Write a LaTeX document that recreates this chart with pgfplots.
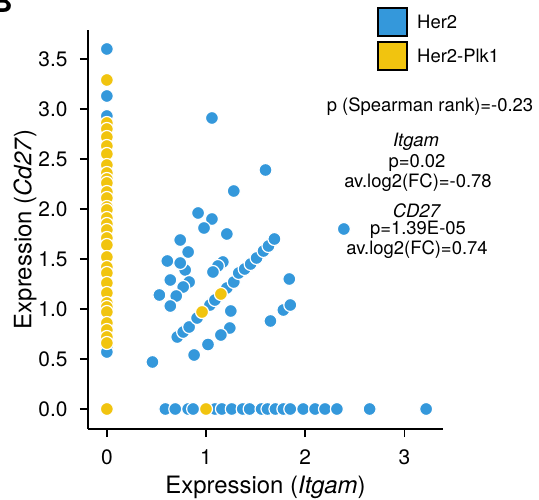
\documentclass[border=0pt]{standalone}
\usepackage{pgfplots}
\pgfplotsset{compat=1.18}
\usepackage{fontspec}
\setmainfont{TeX Gyre Heros}
\definecolor{her2}{HTML}{3498DB}
\definecolor{plk}{HTML}{F1C40F}

% Her2 cells: Itgam vs Cd27 expression
\pgfplotstableread{
x y
0 3.60
0 3.13
0 2.93
0 0.62
0 0.57
1.06 2.91
1.60 2.39
1.28 2.18
0.92 1.96
1.06 1.90
0.98 1.81
1.21 1.75
0.74 1.69
0.82 1.57
0.61 1.48
0.79 1.39
0.74 1.46
0.64 1.29
0.83 1.27
0.77 1.22
0.53 1.14
0.70 1.13
0.64 1.03
1.17 1.47
1.12 1.43
1.07 1.37
2.39 1.80
1.84 1.30
1.78 0.99
1.85 1.04
1.65 0.88
1.25 0.98
1.24 0.81
1.15 0.74
1.02 0.645
0.88 0.54
0.46 0.47
0.71 0.72
0.77 0.77
0.83 0.82
0.91 0.91
1.04 1.04
1.09 1.09
1.21 1.21
1.28 1.27
1.33 1.36
1.39 1.40
1.45 1.45
1.51 1.51
1.58 1.58
1.63 1.63
1.69 1.70
0.59 0
0.69 0
0.82 0
0.87 0
1.09 0
1.16 0
1.26 0
1.37 0
1.44 0
1.56 0
1.62 0
1.70 0
1.78 0
1.85 0
1.98 0
2.10 0
2.20 0
2.32 0
2.65 0
3.22 0
}\hertwo

% Her2-Plk1 cells
\pgfplotstableread{
x y
0 3.29
0 2.86
0 2.80
0 2.72
0 2.63
0 2.55
0 2.44
0 2.36
0 2.30
0 2.26
0 2.17
0 2.11
0 2.02
0 1.99
0 1.91
0 1.85
0 1.79
0 1.71
0 1.64
0 1.52
0 1.42
0 1.36
0 1.26
0 1.16
0 1.06
0 1.02
0 0.97
0 0.86
0 0.79
0 0.72
0 0.66
0 0
0.96 0.97
1.15 1.15
1.00 0
}\plkone

\begin{document}
\begin{tikzpicture}
\path[use as bounding box] (-88bp,-71bp) rectangle (451bp,429bp);
\begin{axis}[
  at={(0,0)}, anchor=south west,
  scale only axis, width=355bp, height=399bp,
  xmin=-0.19, xmax=3.39, ymin=-0.2, ymax=3.79,
  axis lines=left, axis line style={-, line width=1.6bp},
  tick align=outside, major tick length=8bp,
  tick style={line width=1.6bp, black},
  xtick={0,1,2,3}, ytick={0,0.5,1,1.5,2,2.5,3,3.5},
  xticklabel style={font=\fontsize{21}{21}\selectfont, yshift=-9bp,
    /pgf/number format/assume math mode=true},
  yticklabel style={font=\fontsize{21}{21}\selectfont, xshift=-9bp,
    /pgf/number format/.cd, fixed, fixed zerofill, precision=1, assume math mode=true},
  xlabel={Expression (\textit{Itgam})},
  ylabel={Expression (\textit{Cd27})},
  label style={font=\fontsize{24}{24}\selectfont},
  xlabel style={at={(axis description cs:0.5,0)}, anchor=center, yshift=-58bp},
  ylabel style={at={(axis description cs:0,0.5)}, anchor=center, yshift=63bp},
  clip=false,
]
\addplot[only marks, mark=*, mark size=6.5bp,
  mark options={fill=her2, draw=white, line width=1.2bp}] table {\hertwo};
\addplot[only marks, mark=*, mark size=6.5bp,
  mark options={fill=plk, draw=white, line width=1.2bp}] table {\plkone};
\end{axis}

% panel letter (cropped at the top)
\node[anchor=base east, inner sep=0pt, font=\bfseries\fontsize{30}{30}\selectfont] at (-75bp,416bp) {B};

% legend
\draw[fill=her2, line width=1.2bp] (290bp,393bp) rectangle (319bp,421bp);
\draw[fill=plk, line width=1.2bp] (290bp,359bp) rectangle (319bp,387bp);
\begin{scope}[every node/.style={font=\fontsize{18.5}{18.5}\selectfont, inner sep=0pt}]
\node[anchor=west] at (329bp,407bp) {Her2};
\node[anchor=west] at (329bp,373bp) {Her2-Plk1};
\node at (342bp,322bp) {p (Spearman rank)=-0.23};
\node at (328bp,287bp) {\textit{Itgam}};
\node at (329bp,266bp) {p=0.02};
\node at (330bp,246bp) {av.log2(FC)=-0.78};
\node at (329bp,218bp) {\textit{CD27}};
\node at (330bp,199bp) {p=1.39E-05};
\node at (329bp,179bp) {av.log2(FC)=0.74};
\end{scope}
\end{tikzpicture}
\end{document}
